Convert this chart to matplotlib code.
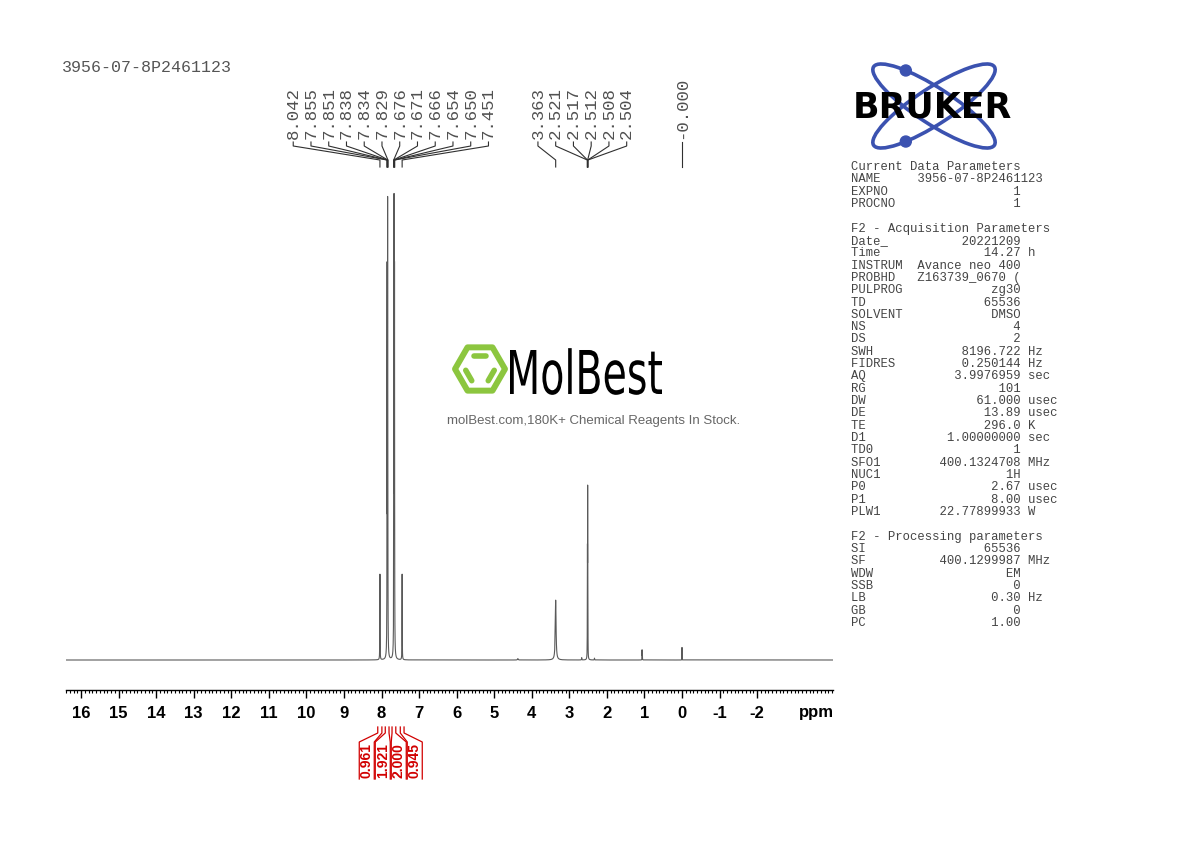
import numpy as np
import matplotlib.pyplot as plt
from matplotlib import transforms
from matplotlib.patches import Ellipse, Circle, Polygon, PathPatch
from matplotlib.textpath import TextPath
from matplotlib.font_manager import FontProperties
from matplotlib.ticker import MultipleLocator

sample_name = '3956-07-8P2461123'

# peaks: position (ppm), apparent height (tallest = 1), half width (ppm)
peak_ppm = [8.042, 7.855, 7.851, 7.838, 7.834, 7.829, 7.676, 7.671, 7.666, 7.654, 7.650, 7.451,
            4.37, 3.363, 2.67, 2.521, 2.517, 2.512, 2.508, 2.504, 2.33, 1.063, 1.056, 0.000]
peak_height = [0.185, 0.30, 0.85, 0.99, 0.80, 0.25, 0.25, 0.82, 1.00, 0.85, 0.30, 0.185,
               0.003, 0.129, 0.005, 0.12, 0.25, 0.377, 0.25, 0.12, 0.004, 0.022, 0.020, 0.027]
peak_hw = [0.003] * 12 + [0.01, 0.012, 0.004] + [0.002] * 5 + [0.004, 0.002, 0.002, 0.0015]

# picked peak labels, one list per label group
label_groups = [
    ['8.042', '7.855', '7.851', '7.838', '7.834', '7.829', '7.676', '7.671', '7.666', '7.654', '7.650', '7.451'],
    ['3.363', '2.521', '2.517', '2.512', '2.508', '2.504'],
    ['-0.000'],
]

# integrals: ppm ranges and values
int_ranges = [(8.10, 7.99), (7.90, 7.80), (7.72, 7.62), (7.50, 7.40)]
int_values = ['0.961', '1.921', '2.000', '0.945']

tick_values = list(range(16, -3, -1))

# acquisition / processing parameters (key, value, unit)
params_current = [('NAME', '3956-07-8P2461123', ''), ('EXPNO', '1', ''), ('PROCNO', '1', '')]
params_acq = [('Date_', '20221209', ''), ('Time', '14.27', 'h'), ('INSTRUM', 'Avance neo 400', ''),
              ('PROBHD', 'Z163739_0670 (', ''), ('PULPROG', 'zg30', ''), ('TD', '65536', ''),
              ('SOLVENT', 'DMSO', ''), ('NS', '4', ''), ('DS', '2', ''), ('SWH', '8196.722', 'Hz'),
              ('FIDRES', '0.250144', 'Hz'), ('AQ', '3.9976959', 'sec'), ('RG', '101', ''),
              ('DW', '61.000', 'usec'), ('DE', '13.89', 'usec'), ('TE', '296.0', 'K'),
              ('D1', '1.00000000', 'sec'), ('TD0', '1', ''), ('SFO1', '400.1324708', 'MHz'),
              ('NUC1', '1H', ''), ('P0', '2.67', 'usec'), ('P1', '8.00', 'usec'),
              ('PLW1', '22.77899933', 'W')]
params_proc = [('SI', '65536', ''), ('SF', '400.1299987', 'MHz'), ('WDW', 'EM', ''), ('SSB', '0', ''),
               ('LB', '0.30', 'Hz'), ('GB', '0', ''), ('PC', '1.00', '')]

W, H = 1190, 842
fig = plt.figure(figsize=(W / 100, H / 100), dpi=100)

# overlay in pixel coordinates (y down) for page furniture
ov = fig.add_axes([0, 0, 1, 1])
ov.set_xlim(0, W)
ov.set_ylim(H, 0)
ov.axis('off')

ax = fig.add_axes([66 / W, 1 - 690 / H, (833 - 66) / W, (690 - 180) / H])
ax.patch.set_visible(False)
ax.set_xlim(16.4, -4.02)
ax.set_ylim(-30 / 464, 1 + 16 / 464)

# spectrum trace: lorentzian lines, amplitudes solved so maxima hit the read heights
p = np.array(peak_ppm)
h = np.array(peak_height)
w = np.array(peak_hw)
L = 1 / (1 + ((p[:, None] - p[None, :]) / w[None, :]) ** 2)
amp = np.clip(np.linalg.solve(L, h), 0, None)
x = np.union1d(np.linspace(-4.02, 16.4, 80000), p)
y = (amp[None, :] / (1 + ((x[:, None] - p[None, :]) / w[None, :]) ** 2)).sum(axis=1)
ax.plot(x, y, color='#5a5a5a', lw=0.8)

for s in ['top', 'left', 'right']:
    ax.spines[s].set_visible(False)
ax.spines['bottom'].set_linewidth(1.0)
ax.set_yticks([])
ax.set_xticks(tick_values)
ax.set_xticklabels([str(t) for t in tick_values], fontfamily='Liberation Sans',
                   fontweight='bold', fontsize=12)
ax.xaxis.set_minor_locator(MultipleLocator(0.1))
ax.tick_params(axis='x', which='major', direction='out', length=5.5, width=1, pad=6)
ax.tick_params(axis='x', which='minor', direction='out', length=2.2, width=0.8)

trans = transforms.blended_transform_factory(ax.transData, ov.transData)
ax.text(-3.57, 712, 'ppm', transform=trans, ha='center', va='center',
        fontfamily='Liberation Sans', fontweight='bold', fontsize=12)

# peak labels with connectors
px_per_ppm = (833 - 66) / (16.4 + 4.02)
step = 17.75 / px_per_ppm
for group in label_groups:
    vals = [abs(float(v)) for v in group]
    n = len(vals)
    centre = np.mean(vals)
    for j, (lab, pv) in enumerate(zip(group, vals)):
        lx = centre + ((n - 1) / 2 - j) * step
        ax.text(lx, 139, lab, transform=trans, rotation=90, ha='center', va='bottom',
                fontfamily='Liberation Mono', fontsize=12.5, color='#505050')
        ax.plot([lx, lx, pv, pv], [142, 146, 160, 167], transform=trans,
                color='#303030', lw=0.8, clip_on=False)

# integrals
mids = [(a + b) / 2 for a, b in int_ranges]
icentre = np.mean(mids)
istep = 16 / px_per_ppm
ihw = 7.5 / px_per_ppm
red = '#d10000'
for i, ((a, b), val) in enumerate(zip(int_ranges, int_values)):
    lx = icentre + ((len(int_values) - 1) / 2 - i) * istep
    ax.plot([a, a, lx + ihw, lx + ihw], [727, 733, 742, 779], transform=trans,
            color=red, lw=0.9, clip_on=False)
    ax.plot([b, b, lx - ihw, lx - ihw], [727, 733, 742, 779], transform=trans,
            color=red, lw=0.9, clip_on=False)
    ax.text(lx, 761, val, transform=trans, rotation=90, ha='center', va='center',
            fontfamily='Liberation Sans', fontweight='bold', fontsize=10, color=red)

# title
ov.text(62, 68, sample_name, ha='left', va='center', fontfamily='Liberation Mono',
        fontsize=12, color='#555555')

# parameter block
lines = ['Current Data Parameters']
lines += [f'{k:<9}{v:>14}' + (f' {u}' if u else '') for k, v, u in params_current]
lines += ['', 'F2 - Acquisition Parameters']
lines += [f'{k:<9}{v:>14}' + (f' {u}' if u else '') for k, v, u in params_acq]
lines += ['', 'F2 - Processing parameters']
lines += [f'{k:<9}{v:>14}' + (f' {u}' if u else '') for k, v, u in params_proc]
for i, line in enumerate(lines):
    ov.text(851, 170 + i * 12.32, line, ha='left', va='baseline',
            fontfamily='Liberation Mono', fontsize=8.8, color='#444444')

# Bruker logo
blue = '#3b52b0'
cx, cy = 934, 106
for ang in (33, -33):
    ov.add_patch(Ellipse((cx, cy), 144, 36, angle=ang, fill=False, ec=blue, lw=2.6))
t = np.linspace(0, 2 * np.pi, 720)
for ang, side in ((33, -1), (-33, 1)):
    th = np.radians(ang)
    ex = 72 * np.cos(t) * np.cos(th) - 18 * np.sin(t) * np.sin(th)
    ey = 72 * np.cos(t) * np.sin(th) + 18 * np.sin(t) * np.cos(th)
    mask = np.sign(ey) == side
    k = np.argmin(np.abs(ex[mask] + 28))
    ov.add_patch(Circle((cx + ex[mask][k], cy + ey[mask][k]), 5.5, color=blue, zorder=3))
ov.text(932, 107, 'BRUKER', ha='center', va='center', fontfamily='DejaVu Sans',
        fontweight='heavy', fontsize=25, color='black', zorder=4)

# MolBest watermark
green = '#8cc63f'
hx, hy = 480, 369
ang6 = np.radians(np.arange(0, 360, 60))
outer = np.column_stack([hx + 25 * np.cos(ang6), hy + 25 * np.sin(ang6)])
ov.add_patch(Polygon(outer, closed=True, fill=False, ec=green, lw=4.3, joinstyle='round'))
inner = np.column_stack([hx + 15 * np.cos(ang6), hy + 15 * np.sin(ang6)])
for i0, i1 in ((4, 5), (2, 3), (0, 1)):
    a0, a1 = inner[i0], inner[i1]
    m = (a0 + a1) / 2
    seg = np.array([m + (a0 - m) * 0.8, m + (a1 - m) * 0.8])
    ov.plot(seg[:, 0], seg[:, 1], color=green, lw=4, solid_capstyle='round')
tp = TextPath((0, 0), 'MolBest', size=1, prop=FontProperties(family='DejaVu Sans'))
ext = tp.get_extents()
sx = 152 / ext.width
sy = 44 / 0.729
tr = transforms.Affine2D().translate(-ext.x0, 0).scale(sx, -sy).translate(510, 394)
ov.add_patch(PathPatch(tr.transform_path(tp), fc='black', ec='none'))
ov.text(594, 421, 'molBest.com,180K+ Chemical Reagents In Stock.', ha='center', va='center',
        fontfamily='Liberation Sans', fontsize=9.5, color='#666666')

fig.savefig('out.png', dpi=100)
